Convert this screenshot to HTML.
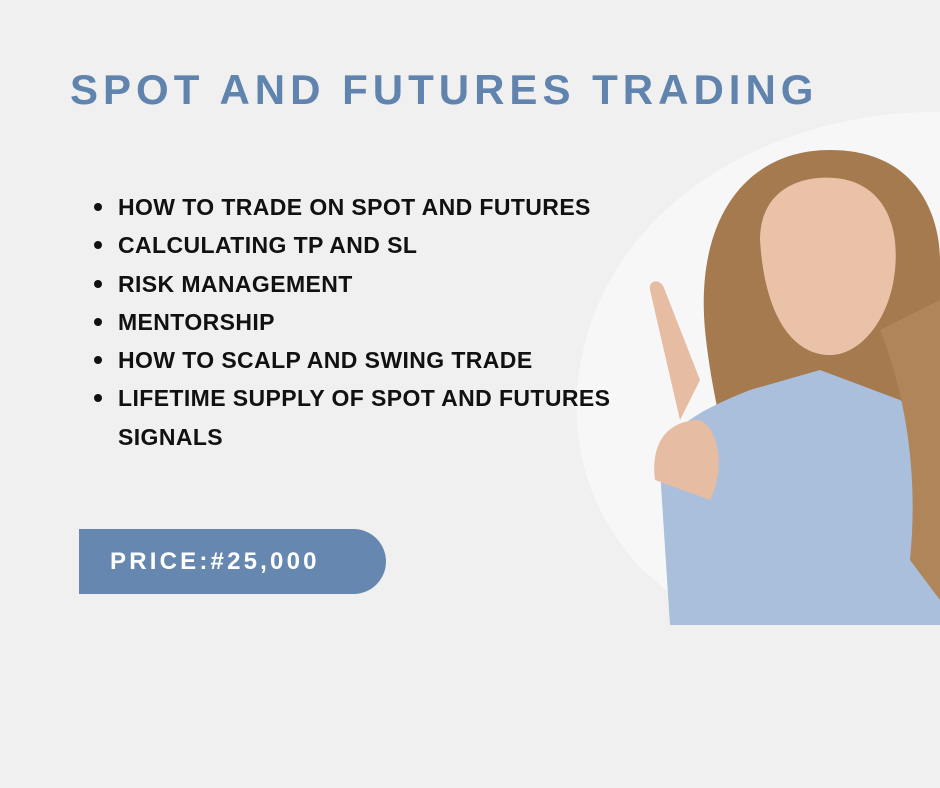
<!DOCTYPE html>
<html><head><meta charset="utf-8"><style>
body{margin:0;width:940px;height:788px;background:#f0f0f0;overflow:hidden;position:relative;font-family:"Liberation Sans",sans-serif}
.t{position:absolute;left:70px;top:66px;font-size:42px;font-weight:bold;color:#6084ae;letter-spacing:5px;white-space:nowrap}
ul{position:absolute;left:96px;top:188px;margin:0;padding:0;list-style:none}
li{font-size:23px;font-weight:bold;color:#111;line-height:38.3px;padding-left:22px;position:relative;white-space:nowrap;letter-spacing:0.4px}
li.b:before{content:"";position:absolute;left:-2px;top:15px;width:8px;height:8px;border-radius:50%;background:#111}
.p{position:absolute;left:79px;top:529px;width:307px;height:65px;background:#6688b0;border-radius:0 33px 33px 0;color:#fff;font-size:24px;font-weight:bold;letter-spacing:3.2px;line-height:65px;box-sizing:border-box;padding-left:31px}
</style></head><body>
<svg style="position:absolute;left:0;top:0" width="940" height="788">
<path d="M940 112 C780 110 600 200 578 380 C565 500 640 600 740 625 L940 625 Z" fill="#f7f7f7"/>
<path d="M705 330 C695 220 745 150 830 150 C920 150 940 220 940 260 L940 600 C900 560 880 520 870 470 L730 470 C720 420 710 380 705 330 Z" fill="#a57a4f"/>
<path d="M760 240 C760 190 800 175 835 178 C880 182 900 220 895 270 C890 320 860 355 830 355 C795 355 765 320 760 240 Z" fill="#e9c2a8"/>
<path d="M670 625 L660 470 C660 430 700 410 750 390 L820 370 L900 400 C930 420 940 450 940 470 L940 625 Z" fill="#a9bfdc"/>
<path d="M655 480 C650 440 670 420 700 420 C720 430 725 470 710 500 Z" fill="#e6bca2"/>
<path d="M680 420 L650 290 C648 280 660 278 664 288 L700 380 Z" fill="#e6bca2"/>
<path d="M880 330 C900 380 920 460 910 560 L940 600 L940 300 Z" fill="#b0855a"/>
</svg>
<div class="t">SPOT AND FUTURES TRADING</div>
<ul>
<li class="b">HOW TO TRADE ON SPOT AND FUTURES</li>
<li class="b">CALCULATING TP AND SL</li>
<li class="b">RISK MANAGEMENT</li>
<li class="b">MENTORSHIP</li>
<li class="b">HOW TO SCALP AND SWING TRADE</li>
<li class="b">LIFETIME SUPPLY OF SPOT AND FUTURES</li>
<li>SIGNALS</li>
</ul>
<div class="p">PRICE:#25,000</div>
</body></html>
